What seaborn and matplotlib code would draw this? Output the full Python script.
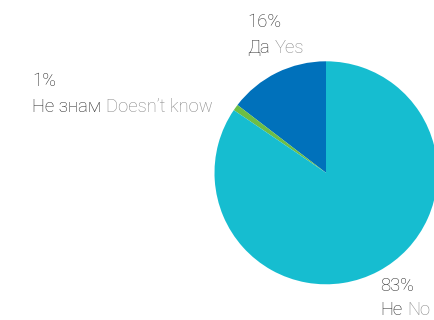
import matplotlib
matplotlib.use("Agg")
import matplotlib.pyplot as plt
import seaborn as sns

# Data
categories_bg = ["Да", "Не знам", "Не"]
categories_en = ["Yes", "Doesn't know", "No"]
shares = [14.6, 0.9, 84.5]          # wedge sizes as drawn
pct_labels = ["16%", "1%", "83%"]   # printed labels
colors = ["#0071BB", "#6DBE45", "#16BDD0"]

sns.set_theme(style="white")
plt.rcParams["font.family"] = ["Roboto", "DejaVu Sans"]

W, H = 434, 320
fig = plt.figure(figsize=(W / 100, H / 100), dpi=100)
ax = fig.add_axes([0, 0, 1, 1])

cx, cy, r = 326, H - 172.8, 111.5
ax.pie(shares, colors=colors, startangle=90, counterclock=True,
       center=(cx, cy), radius=r, frame=True,
       wedgeprops=dict(linewidth=0, antialiased=True))
ax.set_xlim(0, W)
ax.set_ylim(0, H)
ax.set_aspect("equal")
ax.axis("off")

dark = "#262626"
light = "#858585"
fs = 13.3
fw = "light"

# label positions (left x, baseline y of percent line, baseline of name line)
label_pos = [(247, 27, 53), (32, 86, 112), (380, 291, 315)]

fig.canvas.draw()
renderer = fig.canvas.get_renderer()
for (x, y1, y2), pct, bg, en in zip(label_pos, pct_labels, categories_bg, categories_en):
    ax.text(x, H - y1, pct, color=dark, fontsize=fs, fontweight=fw,
            va="baseline", ha="left")
    t = ax.text(x, H - y2, bg, color=dark, fontsize=fs, fontweight=fw,
                va="baseline", ha="left")
    bb = t.get_window_extent(renderer=renderer)
    x2 = bb.x1 + 5
    ax.text(x2, H - y2, en.replace("'", "\u2019"), color=light, fontsize=fs,
            fontweight=fw, va="baseline", ha="left")

fig.savefig("out.png", dpi=100)
